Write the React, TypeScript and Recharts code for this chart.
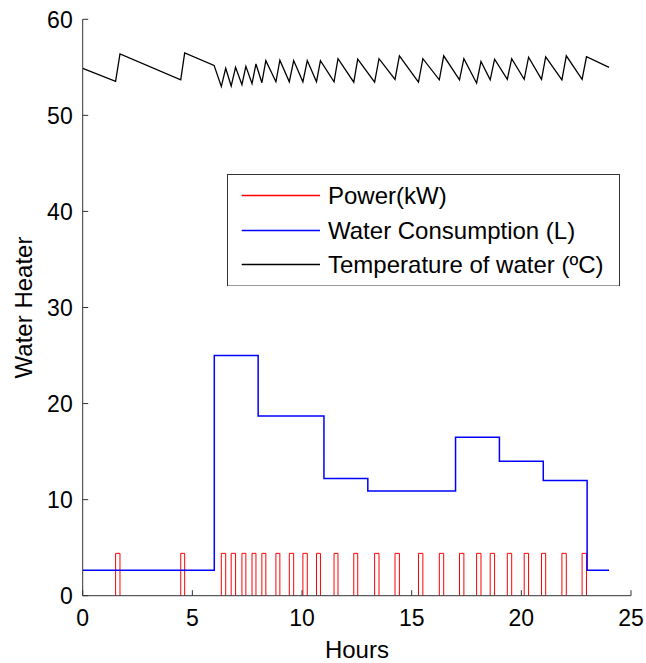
import React from 'react';
import { ComposedChart, Line, XAxis, YAxis, Legend } from 'recharts';

const FONT = '"Liberation Sans", Arial, Helvetica, sans-serif';

// X ticks / Y ticks
const xTicks = [0, 5, 10, 15, 20, 25];
const yTicks = [0, 10, 20, 30, 40, 50, 60];

// Series names
const seriesNames = ['Power(kW)', 'Water Consumption (L)', 'Temperature of water (ºC)'];
const seriesColors = ['#ff0000', '#0000ff', '#000000'];

// Power pulses (hours) – heater on intervals
const pulseStarts = [1.5, 4.47, 6.32, 6.77, 7.26, 7.72, 8.17, 8.81, 9.42, 10.04, 10.66, 11.46, 12.36, 13.31, 14.24, 15.31, 16.26, 17.18, 17.96, 18.58, 19.36, 20.13, 20.92, 21.85, 22.77];
const pulseEnds = [1.7, 4.65, 6.52, 6.97, 7.44, 7.9, 8.35, 8.99, 9.62, 10.24, 10.84, 11.64, 12.54, 13.51, 14.44, 15.51, 16.46, 17.38, 18.16, 18.78, 19.56, 20.33, 21.11, 22.05, 22.97];
const powerLevel = 4.41;

// Water consumption (step after)
const waterHours = [0, 6, 8, 11, 13, 17, 19, 21, 23, 24];
const waterValues = [2.65, 25, 18.7, 12.2, 10.9, 16.5, 14, 12, 2.65, 2.65];

// Temperature of water
const tempHours = [0, 1.5, 1.7, 4.47, 4.65, 5.99, 6.32, 6.52, 6.77, 6.97, 7.26, 7.44, 7.72, 7.9, 8.17, 8.35, 8.81, 8.99, 9.42, 9.62, 10.04, 10.24, 10.66, 10.84, 11.46, 11.64, 12.36, 12.54, 13.31, 13.51, 14.24, 14.44, 15.31, 15.51, 16.26, 16.46, 17.18, 17.38, 17.96, 18.16, 18.58, 18.78, 19.36, 19.56, 20.13, 20.33, 20.92, 21.11, 21.85, 22.05, 22.77, 22.97, 24];
const tempValues = [54.9, 53.55, 56.4, 53.7, 56.5, 55.2, 53.0, 54.9, 53.05, 55.0, 53.2, 55.1, 53.3, 55.35, 53.4, 55.7, 53.5, 55.75, 53.5, 55.7, 53.5, 55.7, 53.5, 55.7, 53.5, 55.9, 53.45, 55.85, 53.45, 55.9, 53.75, 56.2, 53.45, 55.9, 53.7, 56.2, 53.7, 55.9, 53.35, 55.6, 53.7, 55.85, 53.75, 55.9, 53.75, 56.05, 53.75, 56.1, 53.7, 56.2, 53.75, 56.1, 55.0];

const powerData = pulseStarts.flatMap((s, i) => [
  { x: s, y: 0 },
  { x: s, y: powerLevel },
  { x: pulseEnds[i], y: powerLevel },
  { x: pulseEnds[i], y: 0 },
  { x: pulseEnds[i], y: null },
]);
const waterData = waterHours.map((h, i) => ({ x: h, y: waterValues[i] }));
const tempData = tempHours.map((h, i) => ({ x: h, y: tempValues[i] }));

const AXIS_COLOR = '#333333';
const TICK_LEN = 5.5;

const BottomTick = (props: any) => {
  const { x, y, payload } = props;
  return (
    <g>
      <line x1={x} y1={y} x2={x} y2={y - TICK_LEN} stroke={AXIS_COLOR} strokeWidth={1} />
      <text x={x} y={y + 30.5} textAnchor="middle" fontSize={23} fontFamily={FONT} fill="#000">
        {payload.value}
      </text>
    </g>
  );
};

const TopTick = (props: any) => {
  const { x, y } = props;
  return <line x1={x} y1={y} x2={x} y2={y + TICK_LEN} stroke={AXIS_COLOR} strokeWidth={1} />;
};

const LeftTick = (props: any) => {
  const { x, y, payload } = props;
  return (
    <g>
      <line x1={x} y1={y} x2={x + TICK_LEN} y2={y} stroke={AXIS_COLOR} strokeWidth={1} />
      <text x={x - 10} y={y + 8.2} textAnchor="end" fontSize={23} fontFamily={FONT} fill="#000">
        {payload.value}
      </text>
    </g>
  );
};

const RightTick = (props: any) => {
  const { x, y } = props;
  return <line x1={x} y1={y} x2={x - TICK_LEN} y2={y} stroke={AXIS_COLOR} strokeWidth={1} />;
};

const LEG_W = 393;
const LEG_H = 112.5;
const rowCenters = [21.5, 56.5, 90.5];

const renderLegend = () => {
  return (
    <svg width={LEG_W} height={LEG_H} style={{ display: 'block' }}>
      <rect x={0.5} y={0.5} width={LEG_W - 1} height={LEG_H - 1} fill="#fff" stroke={AXIS_COLOR} strokeWidth={1} />
      {seriesNames.map((name, i) => (
        <g key={name}>
          <rect x={14.7} width={78.3} y={rowCenters[i] - 0.75} height={1.5} fill={seriesColors[i]} />
          <text x={101} y={rowCenters[i] + 8.6} fontSize={24} fontFamily={FONT} fill="#000">
            {name}
          </text>
        </g>
      ))}
    </svg>
  );
};

const YLabel = () => {
  const cx = 32;
  const cy = 307.5;
  return (
    <text x={cx} y={cy} transform={`rotate(-90, ${cx}, ${cy})`} textAnchor="middle" fontSize={24} fontFamily={FONT} fill="#000">
      Water Heater
    </text>
  );
};

const XLabel = () => {
  return (
    <text x={356.9} y={658} textAnchor="middle" fontSize={24} fontFamily={FONT} fill="#000">
      Hours
    </text>
  );
};

export default function App() {
  return (
    <div style={{ position: 'absolute', left: 0, top: 0, width: 646, height: 663, background: '#fff' }}>
      <ComposedChart width={646} height={663} margin={{ top: 19.3, right: 15, left: 0, bottom: 0 }}>
        <XAxis
          xAxisId="b"
          type="number"
          dataKey="x"
          domain={[0, 25]}
          ticks={xTicks}
          interval={0}
          allowDataOverflow
          height={67.3}
          tickSize={0}
          tickMargin={0}
          tickLine={false}
          axisLine={{ stroke: AXIS_COLOR, strokeWidth: 1 }}
          tick={<BottomTick />}
          label={<XLabel />}
        />
        <XAxis
          xAxisId="t"
          orientation="top"
          type="number"
          dataKey="x"
          domain={[0, 25]}
          ticks={xTicks}
          interval={0}
          allowDataOverflow
          height={0}
          tickSize={0}
          tickMargin={0}
          tickLine={false}
          axisLine={{ stroke: AXIS_COLOR, strokeWidth: 1 }}
          tick={<TopTick />}
        />
        <YAxis
          yAxisId="l"
          type="number"
          domain={[0, 60]}
          ticks={yTicks}
          interval={0}
          allowDataOverflow
          width={82.7}
          tickSize={0}
          tickMargin={0}
          tickLine={false}
          axisLine={{ stroke: AXIS_COLOR, strokeWidth: 1 }}
          tick={<LeftTick />}
          label={<YLabel />}
        />
        <YAxis
          yAxisId="r"
          orientation="right"
          type="number"
          domain={[0, 60]}
          ticks={yTicks}
          interval={0}
          allowDataOverflow
          width={0}
          tickSize={0}
          tickMargin={0}
          tickLine={false}
          axisLine={{ stroke: AXIS_COLOR, strokeWidth: 1 }}
          tick={<RightTick />}
        />
        <Line
          xAxisId="b"
          yAxisId="l"
          data={powerData}
          dataKey="y"
          name={seriesNames[0]}
          type="linear"
          stroke={seriesColors[0]}
          strokeWidth={1}
          dot={false}
          activeDot={false}
          isAnimationActive={false}
        />
        <Line
          xAxisId="b"
          yAxisId="l"
          data={waterData}
          dataKey="y"
          name={seriesNames[1]}
          type="stepAfter"
          stroke={seriesColors[1]}
          strokeWidth={1.5}
          dot={false}
          activeDot={false}
          isAnimationActive={false}
        />
        <Line
          xAxisId="b"
          yAxisId="l"
          data={tempData}
          dataKey="y"
          name={seriesNames[2]}
          type="linear"
          stroke={seriesColors[2]}
          strokeWidth={1.3}
          dot={false}
          activeDot={false}
          isAnimationActive={false}
        />
        <Legend
          layout="vertical"
          align="center"
          verticalAlign="middle"
          content={renderLegend}
          wrapperStyle={{ left: 227, top: 173.5, width: LEG_W, height: LEG_H }}
        />
      </ComposedChart>
    </div>
  );
}
